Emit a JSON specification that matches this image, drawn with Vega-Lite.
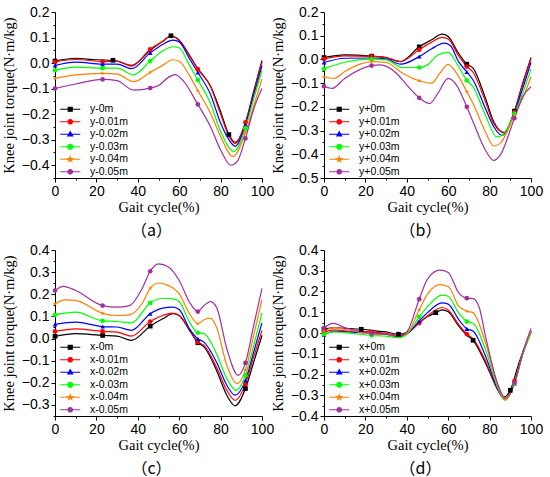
{
  "$schema": "https://vega.github.io/schema/vega-lite/v6.json",
  "padding": {"left": 1, "top": 5, "right": 2, "bottom": 2},
  "bounds": "flush",
  "columns": 2,
  "spacing": {"row": 72, "column": 62},
  "resolve": {"scale": {"color": "independent", "shape": "independent"}},
  "data": {"values": [
    {"p":"a","k":0,"s":"y-0m","x":0,"y":0.008,"m":1},{"p":"a","k":0,"s":"y-0m","x":10,"y":0.019},{"p":"a","k":0,"s":"y-0m","x":20,"y":0.013},{"p":"a","k":0,"s":"y-0m","x":28,"y":0.011,"m":1},{"p":"a","k":0,"s":"y-0m","x":37,"y":-0.009},{"p":"a","k":0,"s":"y-0m","x":46,"y":0.05},{"p":"a","k":0,"s":"y-0m","x":52,"y":0.085},{"p":"a","k":0,"s":"y-0m","x":56,"y":0.107,"m":1},{"p":"a","k":0,"s":"y-0m","x":60,"y":0.09},{"p":"a","k":0,"s":"y-0m","x":65,"y":0.03},{"p":"a","k":0,"s":"y-0m","x":69,"y":-0.022},{"p":"a","k":0,"s":"y-0m","x":75,"y":-0.088},{"p":"a","k":0,"s":"y-0m","x":80,"y":-0.19},{"p":"a","k":0,"s":"y-0m","x":84,"y":-0.28,"m":1},{"p":"a","k":0,"s":"y-0m","x":87,"y":-0.31},{"p":"a","k":0,"s":"y-0m","x":92,"y":-0.235},{"p":"a","k":0,"s":"y-0m","x":96,"y":-0.11},{"p":"a","k":0,"s":"y-0m","x":100,"y":0.01},
    {"p":"a","k":1,"s":"y-0.01m","x":0,"y":0.005,"m":1},{"p":"a","k":1,"s":"y-0.01m","x":10,"y":0.014},{"p":"a","k":1,"s":"y-0.01m","x":23,"y":0.006,"m":1},{"p":"a","k":1,"s":"y-0.01m","x":30,"y":0.008},{"p":"a","k":1,"s":"y-0.01m","x":37,"y":-0.012},{"p":"a","k":1,"s":"y-0.01m","x":46,"y":0.054,"m":1},{"p":"a","k":1,"s":"y-0.01m","x":52,"y":0.085},{"p":"a","k":1,"s":"y-0.01m","x":56,"y":0.104},{"p":"a","k":1,"s":"y-0.01m","x":60,"y":0.088},{"p":"a","k":1,"s":"y-0.01m","x":65,"y":0.028},{"p":"a","k":1,"s":"y-0.01m","x":69,"y":-0.024,"m":1},{"p":"a","k":1,"s":"y-0.01m","x":75,"y":-0.09},{"p":"a","k":1,"s":"y-0.01m","x":80,"y":-0.2},{"p":"a","k":1,"s":"y-0.01m","x":84,"y":-0.285},{"p":"a","k":1,"s":"y-0.01m","x":87,"y":-0.315},{"p":"a","k":1,"s":"y-0.01m","x":92,"y":-0.232,"m":1},{"p":"a","k":1,"s":"y-0.01m","x":96,"y":-0.115},{"p":"a","k":1,"s":"y-0.01m","x":100,"y":0.005},
    {"p":"a","k":2,"s":"y-0.02m","x":0,"y":-0.009,"m":1},{"p":"a","k":2,"s":"y-0.02m","x":10,"y":0.004},{"p":"a","k":2,"s":"y-0.02m","x":23,"y":-0.004,"m":1},{"p":"a","k":2,"s":"y-0.02m","x":30,"y":-0.004},{"p":"a","k":2,"s":"y-0.02m","x":37,"y":-0.022},{"p":"a","k":2,"s":"y-0.02m","x":46,"y":0.04,"m":1},{"p":"a","k":2,"s":"y-0.02m","x":52,"y":0.073},{"p":"a","k":2,"s":"y-0.02m","x":57,"y":0.09},{"p":"a","k":2,"s":"y-0.02m","x":60,"y":0.083},{"p":"a","k":2,"s":"y-0.02m","x":65,"y":0.017},{"p":"a","k":2,"s":"y-0.02m","x":69,"y":-0.037,"m":1},{"p":"a","k":2,"s":"y-0.02m","x":75,"y":-0.12},{"p":"a","k":2,"s":"y-0.02m","x":80,"y":-0.235},{"p":"a","k":2,"s":"y-0.02m","x":84,"y":-0.3},{"p":"a","k":2,"s":"y-0.02m","x":87,"y":-0.326},{"p":"a","k":2,"s":"y-0.02m","x":92,"y":-0.242,"m":1},{"p":"a","k":2,"s":"y-0.02m","x":96,"y":-0.125},{"p":"a","k":2,"s":"y-0.02m","x":100,"y":-0.01},
    {"p":"a","k":3,"s":"y-0.03m","x":0,"y":-0.028,"m":1},{"p":"a","k":3,"s":"y-0.03m","x":10,"y":-0.016},{"p":"a","k":3,"s":"y-0.03m","x":23,"y":-0.02,"m":1},{"p":"a","k":3,"s":"y-0.03m","x":30,"y":-0.02},{"p":"a","k":3,"s":"y-0.03m","x":38,"y":-0.046},{"p":"a","k":3,"s":"y-0.03m","x":46,"y":0.008,"m":1},{"p":"a","k":3,"s":"y-0.03m","x":52,"y":0.047},{"p":"a","k":3,"s":"y-0.03m","x":57,"y":0.064},{"p":"a","k":3,"s":"y-0.03m","x":60,"y":0.06},{"p":"a","k":3,"s":"y-0.03m","x":65,"y":-0.009},{"p":"a","k":3,"s":"y-0.03m","x":69,"y":-0.066,"m":1},{"p":"a","k":3,"s":"y-0.03m","x":75,"y":-0.155},{"p":"a","k":3,"s":"y-0.03m","x":80,"y":-0.267},{"p":"a","k":3,"s":"y-0.03m","x":86.5,"y":-0.346},{"p":"a","k":3,"s":"y-0.03m","x":92,"y":-0.255,"m":1},{"p":"a","k":3,"s":"y-0.03m","x":96,"y":-0.14},{"p":"a","k":3,"s":"y-0.03m","x":100,"y":-0.028},
    {"p":"a","k":4,"s":"y-0.04m","x":0,"y":-0.06,"m":1},{"p":"a","k":4,"s":"y-0.04m","x":10,"y":-0.046},{"p":"a","k":4,"s":"y-0.04m","x":23,"y":-0.04,"m":1},{"p":"a","k":4,"s":"y-0.04m","x":30,"y":-0.043},{"p":"a","k":4,"s":"y-0.04m","x":38,"y":-0.073},{"p":"a","k":4,"s":"y-0.04m","x":46,"y":-0.036,"m":1},{"p":"a","k":4,"s":"y-0.04m","x":52,"y":-0.009},{"p":"a","k":4,"s":"y-0.04m","x":57,"y":0.013},{"p":"a","k":4,"s":"y-0.04m","x":60,"y":0.007},{"p":"a","k":4,"s":"y-0.04m","x":65,"y":-0.049},{"p":"a","k":4,"s":"y-0.04m","x":69,"y":-0.108,"m":1},{"p":"a","k":4,"s":"y-0.04m","x":75,"y":-0.194},{"p":"a","k":4,"s":"y-0.04m","x":80,"y":-0.287},{"p":"a","k":4,"s":"y-0.04m","x":86,"y":-0.366},{"p":"a","k":4,"s":"y-0.04m","x":92,"y":-0.272,"m":1},{"p":"a","k":4,"s":"y-0.04m","x":96,"y":-0.168},{"p":"a","k":4,"s":"y-0.04m","x":100,"y":-0.062},
    {"p":"a","k":5,"s":"y-0.05m","x":0,"y":-0.1,"m":1},{"p":"a","k":5,"s":"y-0.05m","x":10,"y":-0.082},{"p":"a","k":5,"s":"y-0.05m","x":23,"y":-0.064,"m":1},{"p":"a","k":5,"s":"y-0.05m","x":30,"y":-0.069},{"p":"a","k":5,"s":"y-0.05m","x":38,"y":-0.106},{"p":"a","k":5,"s":"y-0.05m","x":46,"y":-0.098,"m":1},{"p":"a","k":5,"s":"y-0.05m","x":50,"y":-0.088},{"p":"a","k":5,"s":"y-0.05m","x":55,"y":-0.055},{"p":"a","k":5,"s":"y-0.05m","x":58,"y":-0.045},{"p":"a","k":5,"s":"y-0.05m","x":62,"y":-0.07},{"p":"a","k":5,"s":"y-0.05m","x":69,"y":-0.162,"m":1},{"p":"a","k":5,"s":"y-0.05m","x":75,"y":-0.247},{"p":"a","k":5,"s":"y-0.05m","x":80,"y":-0.34},{"p":"a","k":5,"s":"y-0.05m","x":85,"y":-0.4},{"p":"a","k":5,"s":"y-0.05m","x":88,"y":-0.386},{"p":"a","k":5,"s":"y-0.05m","x":92,"y":-0.295,"m":1},{"p":"a","k":5,"s":"y-0.05m","x":96,"y":-0.18},{"p":"a","k":5,"s":"y-0.05m","x":100,"y":-0.1},

    {"p":"b","k":0,"s":"y+0m","x":0,"y":0.008,"m":1},{"p":"b","k":0,"s":"y+0m","x":10,"y":0.019},{"p":"b","k":0,"s":"y+0m","x":23,"y":0.014,"m":1},{"p":"b","k":0,"s":"y+0m","x":30,"y":0.008},{"p":"b","k":0,"s":"y+0m","x":37,"y":-0.009},{"p":"b","k":0,"s":"y+0m","x":46,"y":0.053,"m":1},{"p":"b","k":0,"s":"y+0m","x":52,"y":0.083},{"p":"b","k":0,"s":"y+0m","x":57,"y":0.107},{"p":"b","k":0,"s":"y+0m","x":60,"y":0.097},{"p":"b","k":0,"s":"y+0m","x":65,"y":0.026},{"p":"b","k":0,"s":"y+0m","x":69,"y":-0.02,"m":1},{"p":"b","k":0,"s":"y+0m","x":72,"y":-0.037},{"p":"b","k":0,"s":"y+0m","x":78,"y":-0.164},{"p":"b","k":0,"s":"y+0m","x":82,"y":-0.263},{"p":"b","k":0,"s":"y+0m","x":87,"y":-0.309},{"p":"b","k":0,"s":"y+0m","x":92,"y":-0.218,"m":1},{"p":"b","k":0,"s":"y+0m","x":96,"y":-0.1},{"p":"b","k":0,"s":"y+0m","x":100,"y":0.008},
    {"p":"b","k":1,"s":"y+0.01m","x":0,"y":0.002,"m":1},{"p":"b","k":1,"s":"y+0.01m","x":10,"y":0.015},{"p":"b","k":1,"s":"y+0.01m","x":23,"y":0.013,"m":1},{"p":"b","k":1,"s":"y+0.01m","x":30,"y":0.008},{"p":"b","k":1,"s":"y+0.01m","x":37,"y":-0.009},{"p":"b","k":1,"s":"y+0.01m","x":46,"y":0.041,"m":1},{"p":"b","k":1,"s":"y+0.01m","x":52,"y":0.073},{"p":"b","k":1,"s":"y+0.01m","x":57,"y":0.093},{"p":"b","k":1,"s":"y+0.01m","x":60,"y":0.086},{"p":"b","k":1,"s":"y+0.01m","x":65,"y":0.016},{"p":"b","k":1,"s":"y+0.01m","x":69,"y":-0.03,"m":1},{"p":"b","k":1,"s":"y+0.01m","x":72,"y":-0.054},{"p":"b","k":1,"s":"y+0.01m","x":78,"y":-0.178},{"p":"b","k":1,"s":"y+0.01m","x":82,"y":-0.27},{"p":"b","k":1,"s":"y+0.01m","x":87,"y":-0.308},{"p":"b","k":1,"s":"y+0.01m","x":92,"y":-0.222,"m":1},{"p":"b","k":1,"s":"y+0.01m","x":96,"y":-0.105},{"p":"b","k":1,"s":"y+0.01m","x":100,"y":0.002},
    {"p":"b","k":2,"s":"y+0.02m","x":0,"y":-0.013,"m":1},{"p":"b","k":2,"s":"y+0.02m","x":10,"y":0.005},{"p":"b","k":2,"s":"y+0.02m","x":23,"y":0.006,"m":1},{"p":"b","k":2,"s":"y+0.02m","x":30,"y":0.002},{"p":"b","k":2,"s":"y+0.02m","x":37,"y":-0.02},{"p":"b","k":2,"s":"y+0.02m","x":46,"y":0.012,"m":1},{"p":"b","k":2,"s":"y+0.02m","x":52,"y":0.045},{"p":"b","k":2,"s":"y+0.02m","x":58,"y":0.069},{"p":"b","k":2,"s":"y+0.02m","x":61,"y":0.059},{"p":"b","k":2,"s":"y+0.02m","x":65,"y":-0.009},{"p":"b","k":2,"s":"y+0.02m","x":69,"y":-0.053,"m":1},{"p":"b","k":2,"s":"y+0.02m","x":72,"y":-0.087},{"p":"b","k":2,"s":"y+0.02m","x":78,"y":-0.207},{"p":"b","k":2,"s":"y+0.02m","x":82,"y":-0.284},{"p":"b","k":2,"s":"y+0.02m","x":86,"y":-0.32},{"p":"b","k":2,"s":"y+0.02m","x":92,"y":-0.224,"m":1},{"p":"b","k":2,"s":"y+0.02m","x":96,"y":-0.122},{"p":"b","k":2,"s":"y+0.02m","x":100,"y":-0.013},
    {"p":"b","k":3,"s":"y+0.03m","x":0,"y":-0.04,"m":1},{"p":"b","k":3,"s":"y+0.03m","x":10,"y":-0.012},{"p":"b","k":3,"s":"y+0.03m","x":23,"y":0.001,"m":1},{"p":"b","k":3,"s":"y+0.03m","x":30,"y":-0.002},{"p":"b","k":3,"s":"y+0.03m","x":38,"y":-0.034},{"p":"b","k":3,"s":"y+0.03m","x":46,"y":-0.034,"m":1},{"p":"b","k":3,"s":"y+0.03m","x":50,"y":-0.023},{"p":"b","k":3,"s":"y+0.03m","x":55,"y":0.019},{"p":"b","k":3,"s":"y+0.03m","x":60,"y":0.03},{"p":"b","k":3,"s":"y+0.03m","x":65,"y":-0.03},{"p":"b","k":3,"s":"y+0.03m","x":69,"y":-0.088,"m":1},{"p":"b","k":3,"s":"y+0.03m","x":72,"y":-0.115},{"p":"b","k":3,"s":"y+0.03m","x":78,"y":-0.235},{"p":"b","k":3,"s":"y+0.03m","x":83.5,"y":-0.327},{"p":"b","k":3,"s":"y+0.03m","x":86,"y":-0.32},{"p":"b","k":3,"s":"y+0.03m","x":92,"y":-0.228,"m":1},{"p":"b","k":3,"s":"y+0.03m","x":96,"y":-0.143},{"p":"b","k":3,"s":"y+0.03m","x":100,"y":-0.04},
    {"p":"b","k":4,"s":"y+0.04m","x":0,"y":-0.073,"m":1},{"p":"b","k":4,"s":"y+0.04m","x":5,"y":-0.08},{"p":"b","k":4,"s":"y+0.04m","x":10,"y":-0.051},{"p":"b","k":4,"s":"y+0.04m","x":23,"y":-0.009,"m":1},{"p":"b","k":4,"s":"y+0.04m","x":30,"y":-0.013},{"p":"b","k":4,"s":"y+0.04m","x":38,"y":-0.058},{"p":"b","k":4,"s":"y+0.04m","x":46,"y":-0.09,"m":1},{"p":"b","k":4,"s":"y+0.04m","x":52,"y":-0.1},{"p":"b","k":4,"s":"y+0.04m","x":56,"y":-0.058},{"p":"b","k":4,"s":"y+0.04m","x":60,"y":-0.021},{"p":"b","k":4,"s":"y+0.04m","x":64,"y":-0.058},{"p":"b","k":4,"s":"y+0.04m","x":69,"y":-0.136,"m":1},{"p":"b","k":4,"s":"y+0.04m","x":72,"y":-0.186},{"p":"b","k":4,"s":"y+0.04m","x":78,"y":-0.306},{"p":"b","k":4,"s":"y+0.04m","x":82,"y":-0.365},{"p":"b","k":4,"s":"y+0.04m","x":85,"y":-0.355},{"p":"b","k":4,"s":"y+0.04m","x":92,"y":-0.235,"m":1},{"p":"b","k":4,"s":"y+0.04m","x":96,"y":-0.164},{"p":"b","k":4,"s":"y+0.04m","x":100,"y":-0.073},
    {"p":"b","k":5,"s":"y+0.05m","x":0,"y":-0.113,"m":1},{"p":"b","k":5,"s":"y+0.05m","x":4,"y":-0.122},{"p":"b","k":5,"s":"y+0.05m","x":10,"y":-0.08},{"p":"b","k":5,"s":"y+0.05m","x":23,"y":-0.026,"m":1},{"p":"b","k":5,"s":"y+0.05m","x":27,"y":-0.023},{"p":"b","k":5,"s":"y+0.05m","x":35,"y":-0.058},{"p":"b","k":5,"s":"y+0.05m","x":40,"y":-0.108},{"p":"b","k":5,"s":"y+0.05m","x":46,"y":-0.162,"m":1},{"p":"b","k":5,"s":"y+0.05m","x":51,"y":-0.186},{"p":"b","k":5,"s":"y+0.05m","x":55,"y":-0.143},{"p":"b","k":5,"s":"y+0.05m","x":60,"y":-0.08},{"p":"b","k":5,"s":"y+0.05m","x":64,"y":-0.108},{"p":"b","k":5,"s":"y+0.05m","x":69,"y":-0.2,"m":1},{"p":"b","k":5,"s":"y+0.05m","x":72,"y":-0.263},{"p":"b","k":5,"s":"y+0.05m","x":78,"y":-0.383},{"p":"b","k":5,"s":"y+0.05m","x":82,"y":-0.426},{"p":"b","k":5,"s":"y+0.05m","x":85,"y":-0.405},{"p":"b","k":5,"s":"y+0.05m","x":92,"y":-0.248,"m":1},{"p":"b","k":5,"s":"y+0.05m","x":96,"y":-0.157},{"p":"b","k":5,"s":"y+0.05m","x":100,"y":-0.115},

    {"p":"c","k":0,"s":"x-0m","x":0,"y":0.01,"m":1},{"p":"c","k":0,"s":"x-0m","x":10,"y":0.022},{"p":"c","k":0,"s":"x-0m","x":23,"y":0.014,"m":1},{"p":"c","k":0,"s":"x-0m","x":30,"y":0.011},{"p":"c","k":0,"s":"x-0m","x":37,"y":-0.008},{"p":"c","k":0,"s":"x-0m","x":46,"y":0.056,"m":1},{"p":"c","k":0,"s":"x-0m","x":52,"y":0.089},{"p":"c","k":0,"s":"x-0m","x":57,"y":0.112},{"p":"c","k":0,"s":"x-0m","x":60,"y":0.104},{"p":"c","k":0,"s":"x-0m","x":65,"y":0.037},{"p":"c","k":0,"s":"x-0m","x":69,"y":-0.019,"m":1},{"p":"c","k":0,"s":"x-0m","x":72,"y":-0.038},{"p":"c","k":0,"s":"x-0m","x":78,"y":-0.143},{"p":"c","k":0,"s":"x-0m","x":83,"y":-0.256},{"p":"c","k":0,"s":"x-0m","x":87,"y":-0.304},{"p":"c","k":0,"s":"x-0m","x":92,"y":-0.226,"m":1},{"p":"c","k":0,"s":"x-0m","x":96,"y":-0.106},{"p":"c","k":0,"s":"x-0m","x":100,"y":0.014},
    {"p":"c","k":1,"s":"x-0.01m","x":0,"y":0.032,"m":1},{"p":"c","k":1,"s":"x-0.01m","x":10,"y":0.044},{"p":"c","k":1,"s":"x-0.01m","x":23,"y":0.032,"m":1},{"p":"c","k":1,"s":"x-0.01m","x":30,"y":0.029},{"p":"c","k":1,"s":"x-0.01m","x":37,"y":0.011},{"p":"c","k":1,"s":"x-0.01m","x":46,"y":0.077,"m":1},{"p":"c","k":1,"s":"x-0.01m","x":52,"y":0.104},{"p":"c","k":1,"s":"x-0.01m","x":57,"y":0.115},{"p":"c","k":1,"s":"x-0.01m","x":60,"y":0.104},{"p":"c","k":1,"s":"x-0.01m","x":65,"y":0.04},{"p":"c","k":1,"s":"x-0.01m","x":69,"y":-0.016,"m":1},{"p":"c","k":1,"s":"x-0.01m","x":72,"y":-0.031},{"p":"c","k":1,"s":"x-0.01m","x":78,"y":-0.129},{"p":"c","k":1,"s":"x-0.01m","x":83,"y":-0.234},{"p":"c","k":1,"s":"x-0.01m","x":87,"y":-0.279},{"p":"c","k":1,"s":"x-0.01m","x":92,"y":-0.206,"m":1},{"p":"c","k":1,"s":"x-0.01m","x":96,"y":-0.083},{"p":"c","k":1,"s":"x-0.01m","x":100,"y":0.037},
    {"p":"c","k":2,"s":"x-0.02m","x":0,"y":0.064,"m":1},{"p":"c","k":2,"s":"x-0.02m","x":10,"y":0.074},{"p":"c","k":2,"s":"x-0.02m","x":23,"y":0.054,"m":1},{"p":"c","k":2,"s":"x-0.02m","x":30,"y":0.052},{"p":"c","k":2,"s":"x-0.02m","x":37,"y":0.037},{"p":"c","k":2,"s":"x-0.02m","x":46,"y":0.112,"m":1},{"p":"c","k":2,"s":"x-0.02m","x":52,"y":0.137},{"p":"c","k":2,"s":"x-0.02m","x":57,"y":0.142},{"p":"c","k":2,"s":"x-0.02m","x":60,"y":0.131},{"p":"c","k":2,"s":"x-0.02m","x":65,"y":0.044},{"p":"c","k":2,"s":"x-0.02m","x":69,"y":-0.001,"m":1},{"p":"c","k":2,"s":"x-0.02m","x":72,"y":-0.016},{"p":"c","k":2,"s":"x-0.02m","x":78,"y":-0.106},{"p":"c","k":2,"s":"x-0.02m","x":83,"y":-0.211},{"p":"c","k":2,"s":"x-0.02m","x":87,"y":-0.256},{"p":"c","k":2,"s":"x-0.02m","x":92,"y":-0.189,"m":1},{"p":"c","k":2,"s":"x-0.02m","x":96,"y":-0.061},{"p":"c","k":2,"s":"x-0.02m","x":100,"y":0.071},
    {"p":"c","k":3,"s":"x-0.03m","x":0,"y":0.107,"m":1},{"p":"c","k":3,"s":"x-0.03m","x":10,"y":0.119},{"p":"c","k":3,"s":"x-0.03m","x":23,"y":0.08,"m":1},{"p":"c","k":3,"s":"x-0.03m","x":30,"y":0.077},{"p":"c","k":3,"s":"x-0.03m","x":37,"y":0.071},{"p":"c","k":3,"s":"x-0.03m","x":46,"y":0.161,"m":1},{"p":"c","k":3,"s":"x-0.03m","x":52,"y":0.182},{"p":"c","k":3,"s":"x-0.03m","x":57,"y":0.179},{"p":"c","k":3,"s":"x-0.03m","x":60,"y":0.167},{"p":"c","k":3,"s":"x-0.03m","x":65,"y":0.074},{"p":"c","k":3,"s":"x-0.03m","x":69,"y":0.026,"m":1},{"p":"c","k":3,"s":"x-0.03m","x":72,"y":0.022},{"p":"c","k":3,"s":"x-0.03m","x":78,"y":-0.068},{"p":"c","k":3,"s":"x-0.03m","x":83,"y":-0.181},{"p":"c","k":3,"s":"x-0.03m","x":87.5,"y":-0.234},{"p":"c","k":3,"s":"x-0.03m","x":92,"y":-0.166,"m":1},{"p":"c","k":3,"s":"x-0.03m","x":96,"y":-0.031},{"p":"c","k":3,"s":"x-0.03m","x":100,"y":0.116},
    {"p":"c","k":4,"s":"x-0.04m","x":0,"y":0.157,"m":1},{"p":"c","k":4,"s":"x-0.04m","x":5,"y":0.175},{"p":"c","k":4,"s":"x-0.04m","x":10,"y":0.172},{"p":"c","k":4,"s":"x-0.04m","x":23,"y":0.114,"m":1},{"p":"c","k":4,"s":"x-0.04m","x":30,"y":0.104},{"p":"c","k":4,"s":"x-0.04m","x":36,"y":0.107},{"p":"c","k":4,"s":"x-0.04m","x":42,"y":0.157},{"p":"c","k":4,"s":"x-0.04m","x":46,"y":0.227,"m":1},{"p":"c","k":4,"s":"x-0.04m","x":50,"y":0.251},{"p":"c","k":4,"s":"x-0.04m","x":55,"y":0.239},{"p":"c","k":4,"s":"x-0.04m","x":60,"y":0.202},{"p":"c","k":4,"s":"x-0.04m","x":65,"y":0.112},{"p":"c","k":4,"s":"x-0.04m","x":69,"y":0.067,"m":1},{"p":"c","k":4,"s":"x-0.04m","x":72,"y":0.085},{"p":"c","k":4,"s":"x-0.04m","x":75,"y":0.092},{"p":"c","k":4,"s":"x-0.04m","x":78,"y":0.052},{"p":"c","k":4,"s":"x-0.04m","x":83,"y":-0.121},{"p":"c","k":4,"s":"x-0.04m","x":88,"y":-0.204},{"p":"c","k":4,"s":"x-0.04m","x":92,"y":-0.142,"m":1},{"p":"c","k":4,"s":"x-0.04m","x":96,"y":0.014},{"p":"c","k":4,"s":"x-0.04m","x":100,"y":0.176},
    {"p":"c","k":5,"s":"x-0.05m","x":0,"y":0.217,"m":1},{"p":"c","k":5,"s":"x-0.05m","x":4,"y":0.236},{"p":"c","k":5,"s":"x-0.05m","x":10,"y":0.217},{"p":"c","k":5,"s":"x-0.05m","x":23,"y":0.149,"m":1},{"p":"c","k":5,"s":"x-0.05m","x":30,"y":0.142},{"p":"c","k":5,"s":"x-0.05m","x":36,"y":0.149},{"p":"c","k":5,"s":"x-0.05m","x":42,"y":0.224},{"p":"c","k":5,"s":"x-0.05m","x":46,"y":0.304,"m":1},{"p":"c","k":5,"s":"x-0.05m","x":50,"y":0.337},{"p":"c","k":5,"s":"x-0.05m","x":55,"y":0.322},{"p":"c","k":5,"s":"x-0.05m","x":60,"y":0.262},{"p":"c","k":5,"s":"x-0.05m","x":65,"y":0.164},{"p":"c","k":5,"s":"x-0.05m","x":69,"y":0.122,"m":1},{"p":"c","k":5,"s":"x-0.05m","x":72,"y":0.149},{"p":"c","k":5,"s":"x-0.05m","x":75,"y":0.167},{"p":"c","k":5,"s":"x-0.05m","x":78,"y":0.142},{"p":"c","k":5,"s":"x-0.05m","x":83,"y":-0.046},{"p":"c","k":5,"s":"x-0.05m","x":88.5,"y":-0.166},{"p":"c","k":5,"s":"x-0.05m","x":92,"y":-0.11,"m":1},{"p":"c","k":5,"s":"x-0.05m","x":96,"y":0.059},{"p":"c","k":5,"s":"x-0.05m","x":100,"y":0.227},

    {"p":"d","k":0,"s":"x+0m","x":0,"y":0.018,"m":1},{"p":"d","k":0,"s":"x+0m","x":5,"y":0.026},{"p":"d","k":0,"s":"x+0m","x":10,"y":0.023},{"p":"d","k":0,"s":"x+0m","x":18,"y":0.018,"m":1},{"p":"d","k":0,"s":"x+0m","x":25,"y":0.01},{"p":"d","k":0,"s":"x+0m","x":30,"y":0.005},{"p":"d","k":0,"s":"x+0m","x":36,"y":-0.006,"m":1},{"p":"d","k":0,"s":"x+0m","x":40,"y":0.002},{"p":"d","k":0,"s":"x+0m","x":46,"y":0.05},{"p":"d","k":0,"s":"x+0m","x":50,"y":0.079},{"p":"d","k":0,"s":"x+0m","x":54,"y":0.098,"m":1},{"p":"d","k":0,"s":"x+0m","x":57,"y":0.111},{"p":"d","k":0,"s":"x+0m","x":60,"y":0.102},{"p":"d","k":0,"s":"x+0m","x":65,"y":0.034},{"p":"d","k":0,"s":"x+0m","x":69,"y":-0.011},{"p":"d","k":0,"s":"x+0m","x":72,"y":-0.035,"m":1},{"p":"d","k":0,"s":"x+0m","x":78,"y":-0.144},{"p":"d","k":0,"s":"x+0m","x":84,"y":-0.273},{"p":"d","k":0,"s":"x+0m","x":87,"y":-0.308},{"p":"d","k":0,"s":"x+0m","x":90,"y":-0.276,"m":1},{"p":"d","k":0,"s":"x+0m","x":94,"y":-0.15},{"p":"d","k":0,"s":"x+0m","x":97,"y":-0.068},{"p":"d","k":0,"s":"x+0m","x":100,"y":0.01},
    {"p":"d","k":1,"s":"x+0.01m","x":0,"y":0.005,"m":1},{"p":"d","k":1,"s":"x+0.01m","x":5,"y":0.015},{"p":"d","k":1,"s":"x+0.01m","x":10,"y":0.01},{"p":"d","k":1,"s":"x+0.01m","x":23,"y":0.005,"m":1},{"p":"d","k":1,"s":"x+0.01m","x":30,"y":-0.002},{"p":"d","k":1,"s":"x+0.01m","x":36,"y":-0.011},{"p":"d","k":1,"s":"x+0.01m","x":40,"y":-0.002},{"p":"d","k":1,"s":"x+0.01m","x":46,"y":0.048,"m":1},{"p":"d","k":1,"s":"x+0.01m","x":50,"y":0.082},{"p":"d","k":1,"s":"x+0.01m","x":57,"y":0.123},{"p":"d","k":1,"s":"x+0.01m","x":60,"y":0.111},{"p":"d","k":1,"s":"x+0.01m","x":65,"y":0.042},{"p":"d","k":1,"s":"x+0.01m","x":69,"y":-0.005,"m":1},{"p":"d","k":1,"s":"x+0.01m","x":72,"y":-0.027},{"p":"d","k":1,"s":"x+0.01m","x":78,"y":-0.135},{"p":"d","k":1,"s":"x+0.01m","x":84,"y":-0.276},{"p":"d","k":1,"s":"x+0.01m","x":87.5,"y":-0.318},{"p":"d","k":1,"s":"x+0.01m","x":92,"y":-0.232,"m":1},{"p":"d","k":1,"s":"x+0.01m","x":96,"y":-0.095},{"p":"d","k":1,"s":"x+0.01m","x":100,"y":0.01},
    {"p":"d","k":2,"s":"x+0.02m","x":0,"y":-0.008,"m":1},{"p":"d","k":2,"s":"x+0.02m","x":5,"y":0.008},{"p":"d","k":2,"s":"x+0.02m","x":10,"y":0.006},{"p":"d","k":2,"s":"x+0.02m","x":23,"y":-0.002,"m":1},{"p":"d","k":2,"s":"x+0.02m","x":30,"y":-0.006},{"p":"d","k":2,"s":"x+0.02m","x":36,"y":-0.018},{"p":"d","k":2,"s":"x+0.02m","x":40,"y":-0.006},{"p":"d","k":2,"s":"x+0.02m","x":46,"y":0.058,"m":1},{"p":"d","k":2,"s":"x+0.02m","x":50,"y":0.098},{"p":"d","k":2,"s":"x+0.02m","x":57,"y":0.145},{"p":"d","k":2,"s":"x+0.02m","x":60,"y":0.139},{"p":"d","k":2,"s":"x+0.02m","x":65,"y":0.066},{"p":"d","k":2,"s":"x+0.02m","x":69,"y":0.02,"m":1},{"p":"d","k":2,"s":"x+0.02m","x":72,"y":0.01},{"p":"d","k":2,"s":"x+0.02m","x":78,"y":-0.111},{"p":"d","k":2,"s":"x+0.02m","x":84,"y":-0.273},{"p":"d","k":2,"s":"x+0.02m","x":87.5,"y":-0.321},{"p":"d","k":2,"s":"x+0.02m","x":92,"y":-0.245,"m":1},{"p":"d","k":2,"s":"x+0.02m","x":96,"y":-0.103},{"p":"d","k":2,"s":"x+0.02m","x":100,"y":0.005},
    {"p":"d","k":3,"s":"x+0.03m","x":0,"y":-0.006,"m":1},{"p":"d","k":3,"s":"x+0.03m","x":5,"y":0.005},{"p":"d","k":3,"s":"x+0.03m","x":10,"y":0.002},{"p":"d","k":3,"s":"x+0.03m","x":23,"y":-0.012,"m":1},{"p":"d","k":3,"s":"x+0.03m","x":30,"y":-0.015},{"p":"d","k":3,"s":"x+0.03m","x":36,"y":-0.023},{"p":"d","k":3,"s":"x+0.03m","x":40,"y":-0.006},{"p":"d","k":3,"s":"x+0.03m","x":46,"y":0.078,"m":1},{"p":"d","k":3,"s":"x+0.03m","x":50,"y":0.127},{"p":"d","k":3,"s":"x+0.03m","x":57,"y":0.183},{"p":"d","k":3,"s":"x+0.03m","x":60,"y":0.177},{"p":"d","k":3,"s":"x+0.03m","x":65,"y":0.098},{"p":"d","k":3,"s":"x+0.03m","x":69,"y":0.055,"m":1},{"p":"d","k":3,"s":"x+0.03m","x":72,"y":0.047},{"p":"d","k":3,"s":"x+0.03m","x":78,"y":-0.079},{"p":"d","k":3,"s":"x+0.03m","x":84,"y":-0.265},{"p":"d","k":3,"s":"x+0.03m","x":87.5,"y":-0.324},{"p":"d","k":3,"s":"x+0.03m","x":92,"y":-0.245,"m":1},{"p":"d","k":3,"s":"x+0.03m","x":96,"y":-0.103},{"p":"d","k":3,"s":"x+0.03m","x":100,"y":0.0},
    {"p":"d","k":4,"s":"x+0.04m","x":0,"y":0.01,"m":1},{"p":"d","k":4,"s":"x+0.04m","x":5,"y":0.026},{"p":"d","k":4,"s":"x+0.04m","x":10,"y":0.018},{"p":"d","k":4,"s":"x+0.04m","x":23,"y":-0.004,"m":1},{"p":"d","k":4,"s":"x+0.04m","x":30,"y":-0.006},{"p":"d","k":4,"s":"x+0.04m","x":36,"y":-0.015},{"p":"d","k":4,"s":"x+0.04m","x":40,"y":-0.002},{"p":"d","k":4,"s":"x+0.04m","x":46,"y":0.112,"m":1},{"p":"d","k":4,"s":"x+0.04m","x":50,"y":0.187},{"p":"d","k":4,"s":"x+0.04m","x":56,"y":0.233},{"p":"d","k":4,"s":"x+0.04m","x":60,"y":0.224},{"p":"d","k":4,"s":"x+0.04m","x":65,"y":0.131},{"p":"d","k":4,"s":"x+0.04m","x":69,"y":0.105,"m":1},{"p":"d","k":4,"s":"x+0.04m","x":72,"y":0.098},{"p":"d","k":4,"s":"x+0.04m","x":78,"y":-0.047},{"p":"d","k":4,"s":"x+0.04m","x":84,"y":-0.256},{"p":"d","k":4,"s":"x+0.04m","x":87.5,"y":-0.321},{"p":"d","k":4,"s":"x+0.04m","x":92,"y":-0.24,"m":1},{"p":"d","k":4,"s":"x+0.04m","x":96,"y":-0.098},{"p":"d","k":4,"s":"x+0.04m","x":100,"y":0.008},
    {"p":"d","k":5,"s":"x+0.05m","x":0,"y":0.025,"m":1},{"p":"d","k":5,"s":"x+0.05m","x":4.5,"y":0.046},{"p":"d","k":5,"s":"x+0.05m","x":10,"y":0.026},{"p":"d","k":5,"s":"x+0.05m","x":23,"y":-0.002,"m":1},{"p":"d","k":5,"s":"x+0.05m","x":30,"y":-0.006},{"p":"d","k":5,"s":"x+0.05m","x":36,"y":-0.015},{"p":"d","k":5,"s":"x+0.05m","x":40,"y":0.005},{"p":"d","k":5,"s":"x+0.05m","x":46,"y":0.163,"m":1},{"p":"d","k":5,"s":"x+0.05m","x":50,"y":0.26},{"p":"d","k":5,"s":"x+0.05m","x":56,"y":0.303},{"p":"d","k":5,"s":"x+0.05m","x":60,"y":0.292},{"p":"d","k":5,"s":"x+0.05m","x":65,"y":0.195},{"p":"d","k":5,"s":"x+0.05m","x":69,"y":0.168,"m":1},{"p":"d","k":5,"s":"x+0.05m","x":72,"y":0.166},{"p":"d","k":5,"s":"x+0.05m","x":75,"y":0.123},{"p":"d","k":5,"s":"x+0.05m","x":78,"y":-0.015},{"p":"d","k":5,"s":"x+0.05m","x":84,"y":-0.248},{"p":"d","k":5,"s":"x+0.05m","x":87.5,"y":-0.313},{"p":"d","k":5,"s":"x+0.05m","x":92,"y":-0.24,"m":1},{"p":"d","k":5,"s":"x+0.05m","x":96,"y":-0.095},{"p":"d","k":5,"s":"x+0.05m","x":100,"y":0.022}
  ]},
  "concat": [
    {
      "width": 207, "height": 166,
      "title": "（a）",
      "transform": [{"filter": "datum.p == 'a'"}],
      "encoding": {
        "x": {"field": "x", "type": "quantitative", "scale": {"domain": [0, 100]},
          "axis": {"title": "Gait cycle(%)", "values": [0,10,20,30,40,50,60,70,80,90,100], "labelExpr": "datum.value % 20 == 0 ? datum.label : ''", "tickSize": {"condition": {"test": "datum.value % 20 == 0", "value": 4}, "value": 2}}},
        "y": {"field": "y", "type": "quantitative", "scale": {"domain": [-0.45, 0.2], "nice": false, "zero": false},
          "axis": {"title": "Knee joint torque(N·m/kg)", "format": ".1f", "values": [0.2,0.15,0.1,0.05,0,-0.05,-0.1,-0.15,-0.2,-0.25,-0.3,-0.35,-0.4,-0.45], "labelExpr": "round(datum.value*100) % 10 == 0 ? datum.label : ''", "tickSize": {"condition": {"test": "round(datum.value*100) % 10 == 0", "value": 4}, "value": 2}}},
        "color": {"field": "s", "type": "nominal", "sort": {"field": "k", "op": "min"},
          "scale": {"range": ["#000000", "#FF0000", "#0000FF", "#00FF00", "#FF8000", "#A030A0"]},
          "legend": {"title": null, "orient": "none", "legendX": 10, "legendY": 92,
            "encode": {"symbols": {"update": {
              "shape": {"signal": "['M-4,0H4M-0.8,-0.8H0.8V0.8H-0.8Z','M-4,0H4M0.9,0A0.9,0.9 0 1,1 -0.9,0A0.9,0.9 0 1,1 0.9,0Z','M-4,0H4M0,-1L0.95,0.7H-0.95Z','M-4,0H4M1,0A1,1 0 1,1 -1,0A1,1 0 1,1 1,0Z','M-4,0H4M0,-1L0.22,-0.31L0.95,-0.31L0.36,0.12L0.59,0.81L0,0.38L-0.59,0.81L-0.36,0.12L-0.95,-0.31L-0.22,-0.31Z','M-4,0H4M0.9,0A0.9,0.9 0 1,1 -0.9,0A0.9,0.9 0 1,1 0.9,0Z'][datum.index]"},
              "fill": {"signal": "['#000000','#FF0000','#0000FF','#00FF00','#FF8000','#A030A0'][datum.index]"},
              "stroke": {"signal": "['#000000','#FF0000','#0000FF','#00FF00','#FF8000','#A030A0'][datum.index]"},
              "strokeWidth": {"value": 1.2}, "opacity": {"value": 1}}}}}}
      },
      "layer": [
        {"mark": {"type": "line", "interpolate": "monotone", "strokeWidth": 1.2}},
        {"transform": [{"filter": "datum.m == 1"}],
          "mark": {"type": "point", "filled": true, "size": 22, "opacity": 1},
          "encoding": {"shape": {"field": "s", "type": "nominal", "sort": {"field": "k", "op": "min"}, "legend": null,
            "scale": {"range": ["square", "circle", "triangle-up", "circle", "M0,-1L0.22,-0.31L0.95,-0.31L0.36,0.12L0.59,0.81L0,0.38L-0.59,0.81L-0.36,0.12L-0.95,-0.31L-0.22,-0.31Z", "circle"]}}}}
      ]
    },
    {
      "width": 207, "height": 166,
      "title": "（b）",
      "transform": [{"filter": "datum.p == 'b'"}],
      "encoding": {
        "x": {"field": "x", "type": "quantitative", "scale": {"domain": [0, 100]},
          "axis": {"title": "Gait cycle(%)", "values": [0,10,20,30,40,50,60,70,80,90,100], "labelExpr": "datum.value % 20 == 0 ? datum.label : ''", "tickSize": {"condition": {"test": "datum.value % 20 == 0", "value": 4}, "value": 2}}},
        "y": {"field": "y", "type": "quantitative", "scale": {"domain": [-0.5, 0.2], "nice": false, "zero": false},
          "axis": {"title": "Knee joint troque(N·m/kg)", "format": ".1f", "values": [0.2,0.15,0.1,0.05,0,-0.05,-0.1,-0.15,-0.2,-0.25,-0.3,-0.35,-0.4,-0.45,-0.5], "labelExpr": "round(datum.value*100) % 10 == 0 ? datum.label : ''", "tickSize": {"condition": {"test": "round(datum.value*100) % 10 == 0", "value": 4}, "value": 2}}},
        "color": {"field": "s", "type": "nominal", "sort": {"field": "k", "op": "min"},
          "scale": {"range": ["#000000", "#FF0000", "#0000FF", "#00FF00", "#FF8000", "#A030A0"]},
          "legend": {"title": null, "orient": "none", "legendX": 10, "legendY": 92,
            "encode": {"symbols": {"update": {
              "shape": {"signal": "['M-4,0H4M-0.8,-0.8H0.8V0.8H-0.8Z','M-4,0H4M0.9,0A0.9,0.9 0 1,1 -0.9,0A0.9,0.9 0 1,1 0.9,0Z','M-4,0H4M0,-1L0.95,0.7H-0.95Z','M-4,0H4M1,0A1,1 0 1,1 -1,0A1,1 0 1,1 1,0Z','M-4,0H4M0,-1L0.22,-0.31L0.95,-0.31L0.36,0.12L0.59,0.81L0,0.38L-0.59,0.81L-0.36,0.12L-0.95,-0.31L-0.22,-0.31Z','M-4,0H4M0.9,0A0.9,0.9 0 1,1 -0.9,0A0.9,0.9 0 1,1 0.9,0Z'][datum.index]"},
              "fill": {"signal": "['#000000','#FF0000','#0000FF','#00FF00','#FF8000','#A030A0'][datum.index]"},
              "stroke": {"signal": "['#000000','#FF0000','#0000FF','#00FF00','#FF8000','#A030A0'][datum.index]"},
              "strokeWidth": {"value": 1.2}, "opacity": {"value": 1}}}}}}
      },
      "layer": [
        {"mark": {"type": "line", "interpolate": "monotone", "strokeWidth": 1.2}},
        {"transform": [{"filter": "datum.m == 1"}],
          "mark": {"type": "point", "filled": true, "size": 22, "opacity": 1},
          "encoding": {"shape": {"field": "s", "type": "nominal", "sort": {"field": "k", "op": "min"}, "legend": null,
            "scale": {"range": ["square", "circle", "triangle-up", "circle", "M0,-1L0.22,-0.31L0.95,-0.31L0.36,0.12L0.59,0.81L0,0.38L-0.59,0.81L-0.36,0.12L-0.95,-0.31L-0.22,-0.31Z", "circle"]}}}}
      ]
    },
    {
      "width": 207, "height": 166,
      "title": "（c）",
      "transform": [{"filter": "datum.p == 'c'"}],
      "encoding": {
        "x": {"field": "x", "type": "quantitative", "scale": {"domain": [0, 100]},
          "axis": {"title": "Gait cycle(%)", "values": [0,10,20,30,40,50,60,70,80,90,100], "labelExpr": "datum.value % 20 == 0 ? datum.label : ''", "tickSize": {"condition": {"test": "datum.value % 20 == 0", "value": 4}, "value": 2}}},
        "y": {"field": "y", "type": "quantitative", "scale": {"domain": [-0.35, 0.4], "nice": false, "zero": false},
          "axis": {"title": "Knee joint torque(N·m/kg)", "format": ".1f", "values": [0.4,0.35,0.3,0.25,0.2,0.15,0.1,0.05,0,-0.05,-0.1,-0.15,-0.2,-0.25,-0.3,-0.35], "labelExpr": "round(datum.value*100) % 10 == 0 ? datum.label : ''", "tickSize": {"condition": {"test": "round(datum.value*100) % 10 == 0", "value": 4}, "value": 2}}},
        "color": {"field": "s", "type": "nominal", "sort": {"field": "k", "op": "min"},
          "scale": {"range": ["#000000", "#FF0000", "#0000FF", "#00FF00", "#FF8000", "#A030A0"]},
          "legend": {"title": null, "orient": "none", "legendX": 10, "legendY": 92,
            "encode": {"symbols": {"update": {
              "shape": {"signal": "['M-4,0H4M-0.8,-0.8H0.8V0.8H-0.8Z','M-4,0H4M0.9,0A0.9,0.9 0 1,1 -0.9,0A0.9,0.9 0 1,1 0.9,0Z','M-4,0H4M0,-1L0.95,0.7H-0.95Z','M-4,0H4M1,0A1,1 0 1,1 -1,0A1,1 0 1,1 1,0Z','M-4,0H4M0,-1L0.22,-0.31L0.95,-0.31L0.36,0.12L0.59,0.81L0,0.38L-0.59,0.81L-0.36,0.12L-0.95,-0.31L-0.22,-0.31Z','M-4,0H4M0.9,0A0.9,0.9 0 1,1 -0.9,0A0.9,0.9 0 1,1 0.9,0Z'][datum.index]"},
              "fill": {"signal": "['#000000','#FF0000','#0000FF','#00FF00','#FF8000','#A030A0'][datum.index]"},
              "stroke": {"signal": "['#000000','#FF0000','#0000FF','#00FF00','#FF8000','#A030A0'][datum.index]"},
              "strokeWidth": {"value": 1.2}, "opacity": {"value": 1}}}}}}
      },
      "layer": [
        {"mark": {"type": "line", "interpolate": "monotone", "strokeWidth": 1.2}},
        {"transform": [{"filter": "datum.m == 1"}],
          "mark": {"type": "point", "filled": true, "size": 22, "opacity": 1},
          "encoding": {"shape": {"field": "s", "type": "nominal", "sort": {"field": "k", "op": "min"}, "legend": null,
            "scale": {"range": ["square", "circle", "triangle-up", "circle", "M0,-1L0.22,-0.31L0.95,-0.31L0.36,0.12L0.59,0.81L0,0.38L-0.59,0.81L-0.36,0.12L-0.95,-0.31L-0.22,-0.31Z", "circle"]}}}}
      ]
    },
    {
      "width": 207, "height": 166,
      "title": "（d）",
      "transform": [{"filter": "datum.p == 'd'"}],
      "encoding": {
        "x": {"field": "x", "type": "quantitative", "scale": {"domain": [0, 100]},
          "axis": {"title": "Gait cycle(%)", "values": [0,10,20,30,40,50,60,70,80,90,100], "labelExpr": "datum.value % 20 == 0 ? datum.label : ''", "tickSize": {"condition": {"test": "datum.value % 20 == 0", "value": 4}, "value": 2}}},
        "y": {"field": "y", "type": "quantitative", "scale": {"domain": [-0.4, 0.4], "nice": false, "zero": false},
          "axis": {"title": "Knee joint torque(N·m/kg)", "format": ".1f", "values": [0.4,0.35,0.3,0.25,0.2,0.15,0.1,0.05,0,-0.05,-0.1,-0.15,-0.2,-0.25,-0.3,-0.35,-0.4], "labelExpr": "round(datum.value*100) % 10 == 0 ? datum.label : ''", "tickSize": {"condition": {"test": "round(datum.value*100) % 10 == 0", "value": 4}, "value": 2}}},
        "color": {"field": "s", "type": "nominal", "sort": {"field": "k", "op": "min"},
          "scale": {"range": ["#000000", "#FF0000", "#0000FF", "#00FF00", "#FF8000", "#A030A0"]},
          "legend": {"title": null, "orient": "none", "legendX": 10, "legendY": 92,
            "encode": {"symbols": {"update": {
              "shape": {"signal": "['M-4,0H4M-0.8,-0.8H0.8V0.8H-0.8Z','M-4,0H4M0.9,0A0.9,0.9 0 1,1 -0.9,0A0.9,0.9 0 1,1 0.9,0Z','M-4,0H4M0,-1L0.95,0.7H-0.95Z','M-4,0H4M1,0A1,1 0 1,1 -1,0A1,1 0 1,1 1,0Z','M-4,0H4M0,-1L0.22,-0.31L0.95,-0.31L0.36,0.12L0.59,0.81L0,0.38L-0.59,0.81L-0.36,0.12L-0.95,-0.31L-0.22,-0.31Z','M-4,0H4M0.9,0A0.9,0.9 0 1,1 -0.9,0A0.9,0.9 0 1,1 0.9,0Z'][datum.index]"},
              "fill": {"signal": "['#000000','#FF0000','#0000FF','#00FF00','#FF8000','#A030A0'][datum.index]"},
              "stroke": {"signal": "['#000000','#FF0000','#0000FF','#00FF00','#FF8000','#A030A0'][datum.index]"},
              "strokeWidth": {"value": 1.2}, "opacity": {"value": 1}}}}}}
      },
      "layer": [
        {"mark": {"type": "line", "interpolate": "monotone", "strokeWidth": 1.2}},
        {"transform": [{"filter": "datum.m == 1"}],
          "mark": {"type": "point", "filled": true, "size": 22, "opacity": 1},
          "encoding": {"shape": {"field": "s", "type": "nominal", "sort": {"field": "k", "op": "min"}, "legend": null,
            "scale": {"range": ["square", "circle", "triangle-up", "circle", "M0,-1L0.22,-0.31L0.95,-0.31L0.36,0.12L0.59,0.81L0,0.38L-0.59,0.81L-0.36,0.12L-0.95,-0.31L-0.22,-0.31Z", "circle"]}}}}
      ]
    }
  ],
  "config": {
    "view": {"stroke": null},
    "axis": {"grid": false, "domainColor": "#000000", "tickColor": "#000000", "labelColor": "#000000", "titleColor": "#000000",
      "labelFont": "Liberation Sans", "labelFontSize": 14, "titleFont": "Liberation Serif", "titleFontSize": 14.5,
      "titleFontWeight": "normal", "labelOverlap": false, "labelFlush": false, "labelPadding": 2, "domainWidth": 1, "tickWidth": 1},
    "axisY": {"titlePadding": 5},
    "axisX": {"titlePadding": 2},
    "legend": {"padding": 0, "labelFont": "Liberation Sans", "labelFontSize": 10.5, "labelColor": "#000000",
      "symbolSize": 25, "labelOffset": 14.5, "rowPadding": 1.5},
    "title": {"orient": "bottom", "font": "Noto Sans CJK SC", "fontSize": 16, "fontWeight": "normal", "color": "#000000", "offset": 9, "dx": -7}
  }
}
